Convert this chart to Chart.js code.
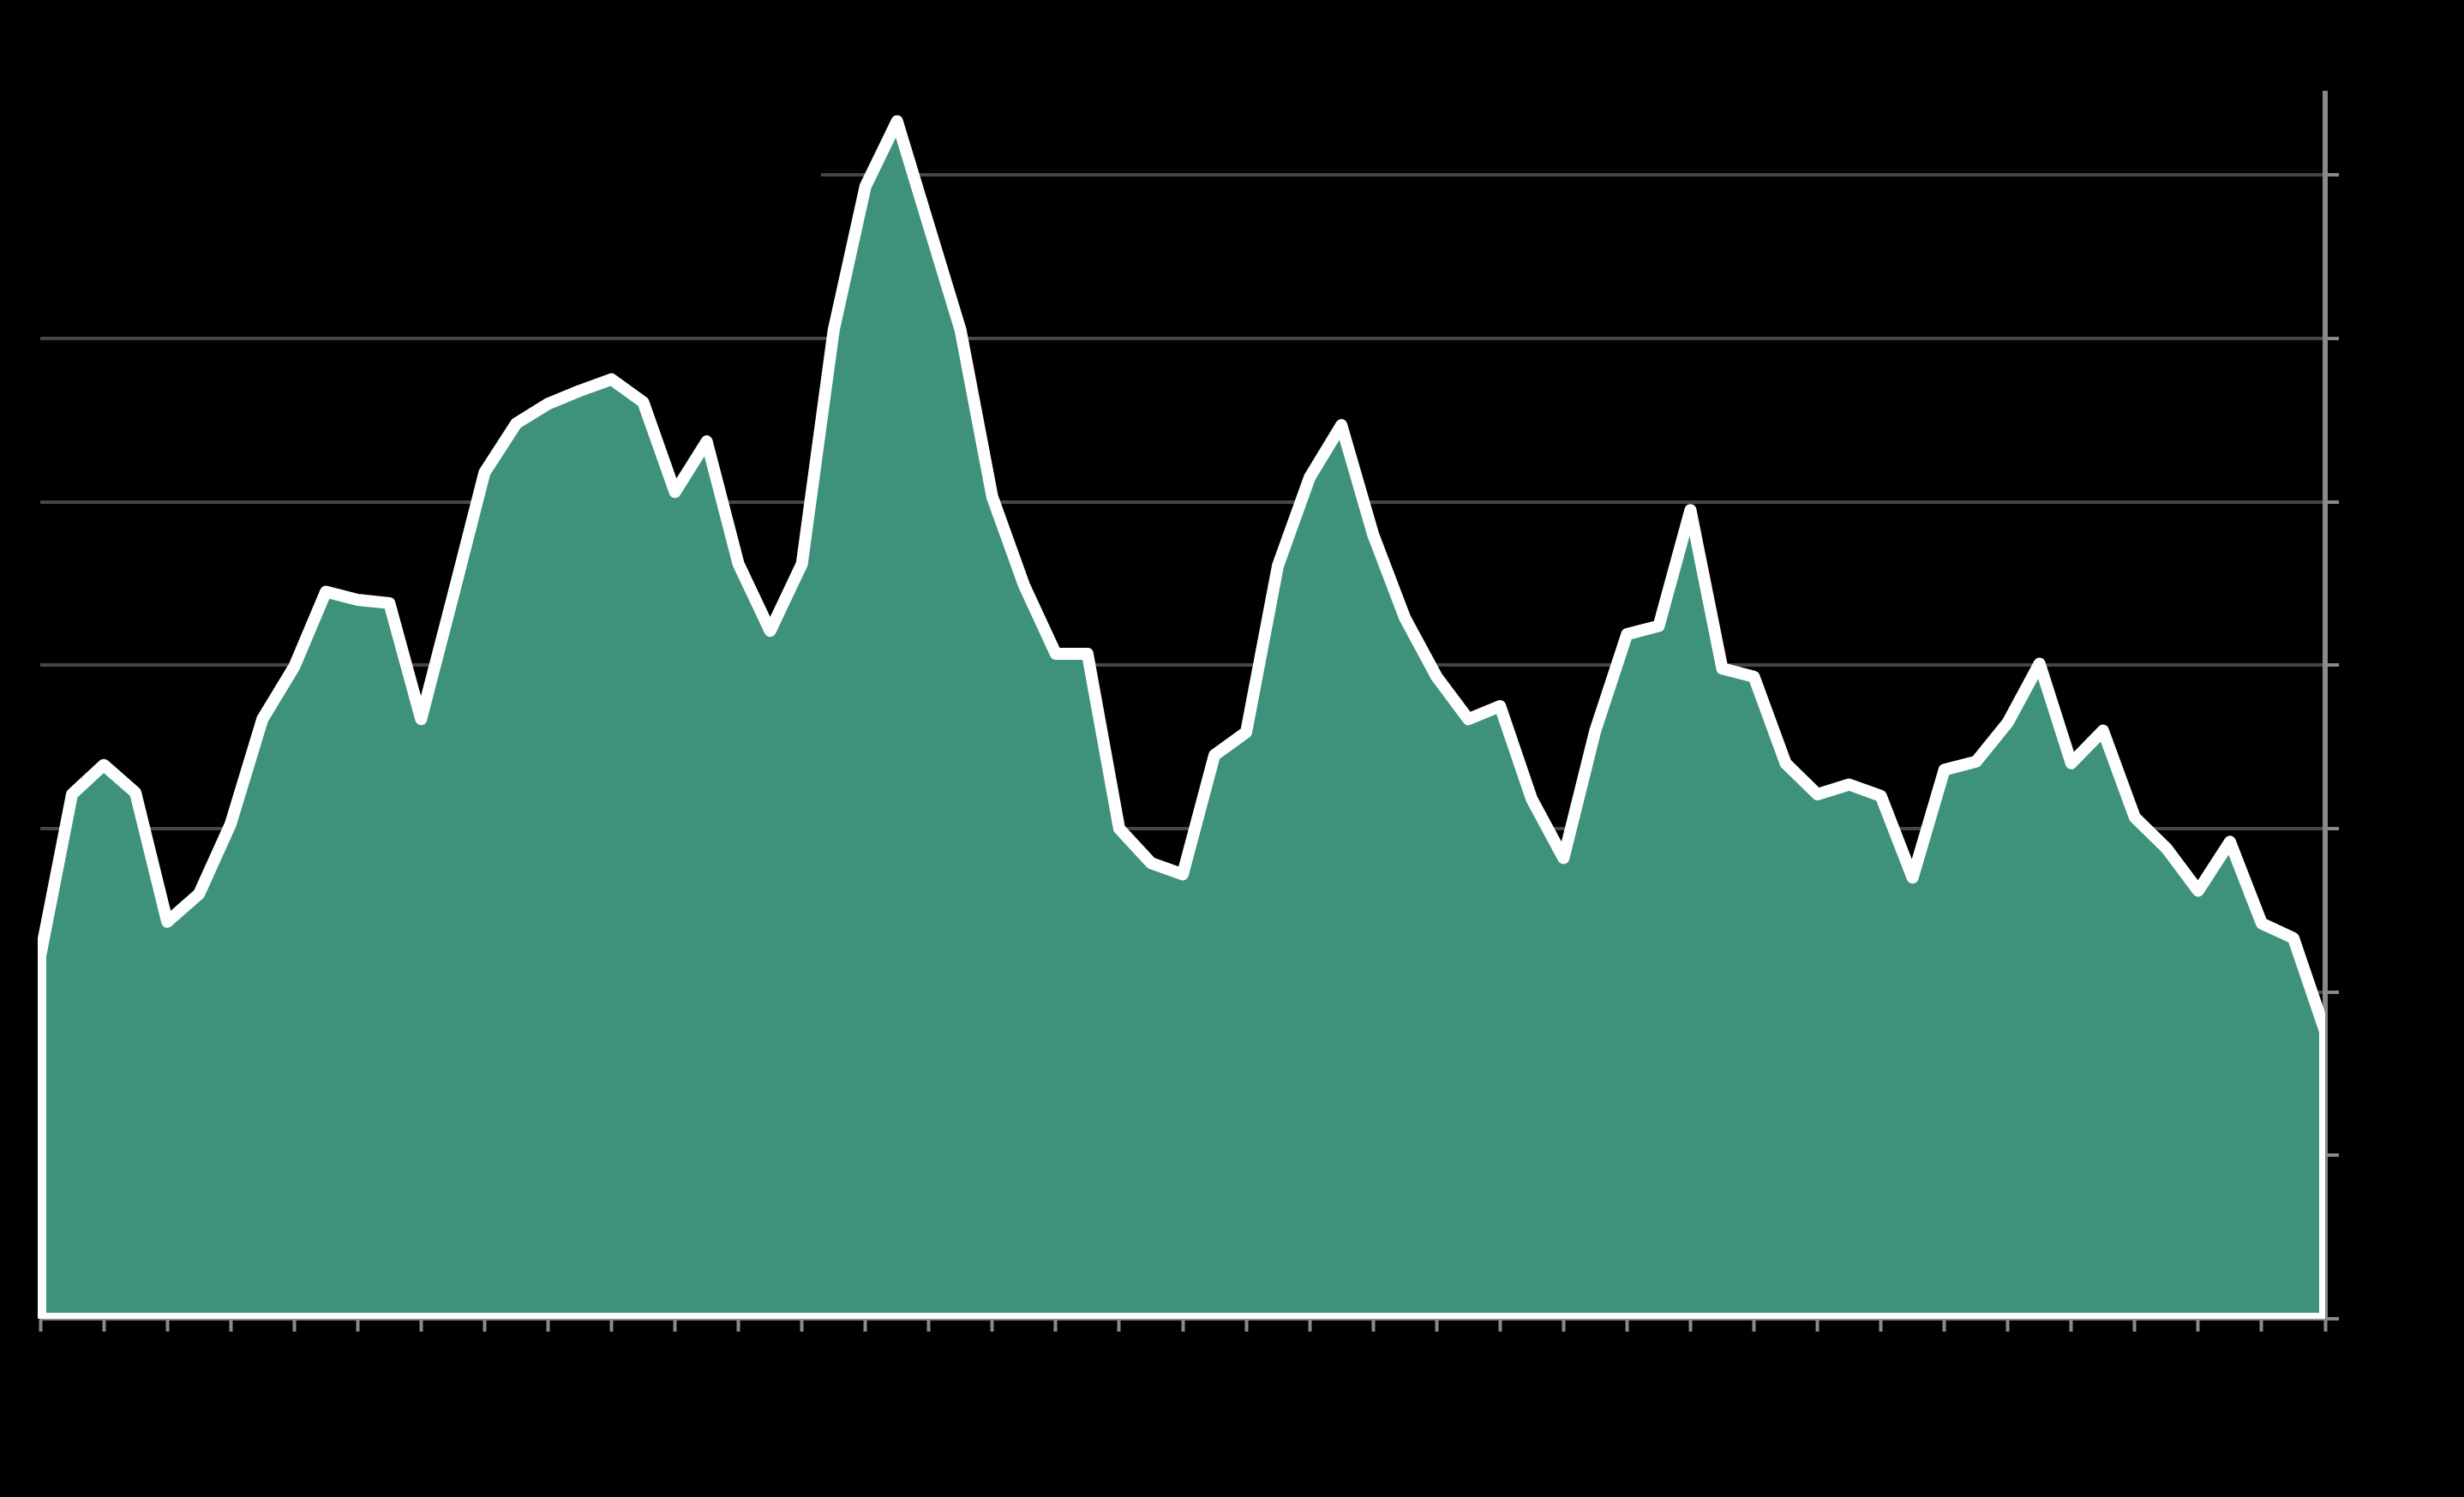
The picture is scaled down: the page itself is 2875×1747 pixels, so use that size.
<!DOCTYPE html>
<html lang="en">
<head>
    <meta charset="UTF-8">
    <title>Area chart</title>
    <style>
        html, body {
            margin: 0;
            padding: 0;
            background-color: #000;
        }
        #wrap {
            width: 2875px;
            height: 1747px;
            position: relative;
        }
    </style>
    <script src="https://cdn.jsdelivr.net/npm/chart.js"></script>
</head>
<body>
    <div id="wrap"><canvas id="areaChart"></canvas></div>

    <script>
        // one value per step, 73 steps (x ticks every 2nd step)
        const steps = [];
        for (let i = 0; i <= 72; i++) steps.push(i);

        const values = [
            2.22, 3.21, 3.39, 3.22, 2.43, 2.60, 3.03, 3.67, 3.99, 4.45,
            4.40, 4.38, 3.67, 4.42, 5.18, 5.48, 5.60, 5.68, 5.75, 5.61,
            5.06, 5.37, 4.62, 4.21, 4.62, 6.05, 6.93, 7.33, 6.69, 6.05,
            5.03, 4.49, 4.07, 4.07, 3.00, 2.79, 2.72, 3.45, 3.59, 4.61,
            5.15, 5.47, 4.80, 4.29, 3.93, 3.67, 3.75, 3.18, 2.82, 3.60,
            4.19, 4.24, 4.95, 3.98, 3.93, 3.40, 3.21, 3.27, 3.20, 2.70,
            3.36, 3.41, 3.65, 4.01, 3.40, 3.60, 3.07, 2.88, 2.62, 2.92,
            2.42, 2.33, 1.76
        ];

        const yMax = 7.5;
        const yStep = 1;
        const xStep = 2;

        const points = steps.map((s, i) => ({ x: s, y: values[i] }));

        // closed outline: up the left edge, along the values, down the right edge, back along the base
        const outline = [{ x: steps[0], y: 0 }]
            .concat(points)
            .concat([{ x: steps[steps.length - 1], y: 0 }, { x: steps[0], y: 0 }]);

        // hides the top grid line behind the (black) legend area
        const legendMask = {
            id: 'legendMask',
            beforeDatasetsDraw(chart) {
                const { ctx, chartArea, scales } = chart;
                const y7 = scales.y.getPixelForValue(7);
                const xEnd = scales.x.getPixelForValue(24.6);
                ctx.save();
                ctx.fillStyle = '#000';
                ctx.fillRect(chartArea.left - 2, y7 - 5, xEnd - chartArea.left + 2, 10);
                ctx.restore();
            }
        };

        const ctx = document.getElementById('areaChart').getContext('2d');
        const areaChart = new Chart(ctx, {
            type: 'line',
            data: {
                datasets: [{
                    // white outline on top
                    data: outline,
                    fill: false,
                    borderColor: '#ffffff',
                    borderWidth: 14,
                    borderJoinStyle: 'round',
                    pointRadius: 0,
                    tension: 0,
                    order: 0,
                    clip: { left: 3, right: 0, top: 30, bottom: 0 }
                }, {
                    // green area underneath
                    data: points,
                    fill: 'origin',
                    backgroundColor: 'rgb(62, 145, 122)',
                    borderWidth: 0,
                    pointRadius: 0,
                    tension: 0,
                    order: 1
                }]
            },
            options: {
                responsive: true,
                maintainAspectRatio: false,
                devicePixelRatio: 1,
                animation: false,
                layout: {
                    padding: { left: 47, top: 109, right: 146, bottom: 193 }
                },
                plugins: {
                    legend: { display: false },
                    tooltip: { enabled: false }
                },
                scales: {
                    x: {
                        type: 'linear',
                        min: steps[0],
                        max: steps[steps.length - 1],
                        z: 1,
                        ticks: { display: false, stepSize: xStep },
                        grid: {
                            drawOnChartArea: false,
                            tickLength: 15,
                            tickColor: '#8a8a8a',
                            tickWidth: 4
                        },
                        border: { color: '#8a8a8a', width: 3 }
                    },
                    y: {
                        position: 'right',
                        min: 0,
                        max: yMax,
                        ticks: { display: false, stepSize: yStep, includeBounds: false },
                        grid: {
                            color: '#464646',
                            lineWidth: 4,
                            tickLength: 16,
                            tickColor: '#8a8a8a',
                            tickWidth: 4
                        },
                        border: { color: '#8a8a8a', width: 6 }
                    }
                }
            },
            plugins: [legendMask]
        });
    </script>
</body>
</html>
